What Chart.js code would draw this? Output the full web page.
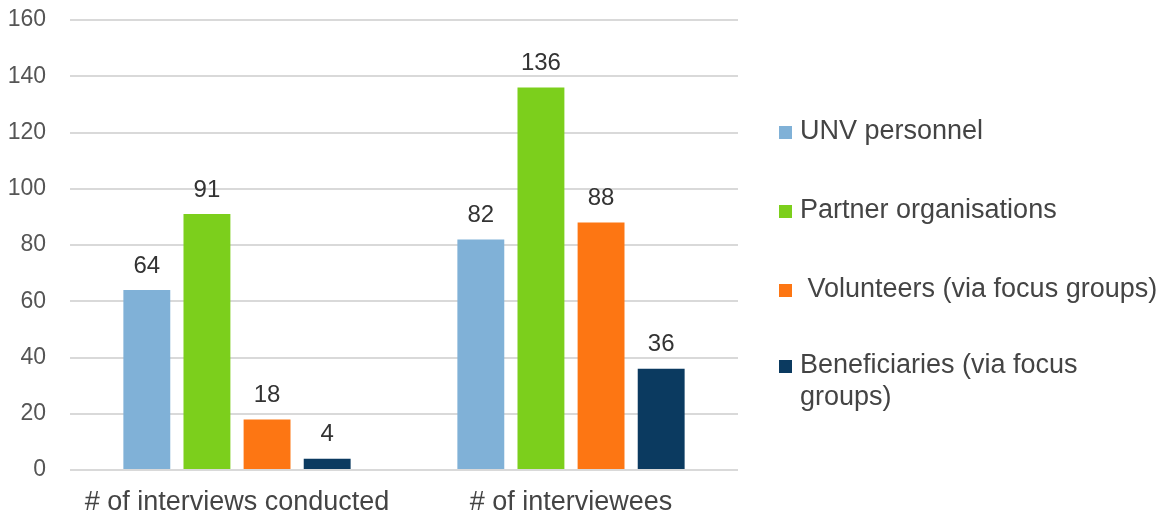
<!DOCTYPE html>
<html>
<head>
<meta charset="utf-8">
<script src="https://cdn.jsdelivr.net/npm/chart.js@4"></script>
<style>
  html, body { margin: 0; padding: 0; background: #fff; }
  #wrap { width: 1168px; height: 519px; position: relative; }
</style>
</head>
<body>
<div id="wrap"><canvas id="interviewChart"></canvas></div>
<script>
const categories = ['# of interviews conducted', '# of interviewees'];
const seriesNames = ['UNV personnel', 'Partner organisations', ' Volunteers (via focus groups)', 'Beneficiaries (via focus\ngroups)'];
const unvPersonnel = [64, 82];
const partnerOrgs = [91, 136];
const volunteers = [18, 88];
const beneficiaries = [4, 36];
const yTicks = [0, 20, 40, 60, 80, 100, 120, 140, 160];

const colors = ['#80b1d7', '#7ccf1c', '#fd7613', '#0b3a60'];
const FONT = '"Liberation Sans", Arial, sans-serif';

// value printed above every bar
const valueLabels = {
    id: 'valueLabels',
    afterDatasetsDraw(chart) {
        const ctx = chart.ctx;
        ctx.save();
        ctx.font = '24px ' + FONT;
        ctx.fillStyle = '#333';
        ctx.textAlign = 'center';
        ctx.textBaseline = 'middle';
        chart.data.datasets.forEach((ds, i) => {
            chart.getDatasetMeta(i).data.forEach((bar, j) => {
                ctx.fillText(ds.data[j], bar.x, bar.y - 24);
            });
        });
        ctx.restore();
    }
};

// legend on the right, with wrapped labels
const sideLegend = {
    id: 'sideLegend',
    afterDraw(chart) {
        const ctx = chart.ctx;
        const rows = [132, 211, 290, 366];
        ctx.save();
        ctx.font = '27px ' + FONT;
        ctx.textBaseline = 'middle';
        chart.data.datasets.forEach((ds, i) => {
            ctx.fillStyle = ds.backgroundColor;
            ctx.fillRect(779, rows[i] - 6, 13, 13);
            ctx.fillStyle = '#444';
            ds.label.split('\n').forEach((line, k) => {
                ctx.fillText(line, 800, rows[i] + k * 32);
            });
        });
        ctx.restore();
    }
};

new Chart(document.getElementById('interviewChart'), {
    type: 'bar',
    data: {
        labels: categories,
        datasets: [
            { label: seriesNames[0], data: unvPersonnel, backgroundColor: colors[0] },
            { label: seriesNames[1], data: partnerOrgs, backgroundColor: colors[1] },
            { label: seriesNames[2], data: volunteers, backgroundColor: colors[2] },
            { label: seriesNames[3], data: beneficiaries, backgroundColor: colors[3] }
        ]
    },
    options: {
        responsive: true,
        maintainAspectRatio: false,
        animation: false,
        layout: { padding: { top: 20, right: 430, left: 0, bottom: 0 } },
        datasets: { bar: { barPercentage: 0.78, categoryPercentage: 0.72 } },
        plugins: {
            legend: { display: false },
            tooltip: { enabled: false }
        },
        scales: {
            x: {
                grid: { display: false, drawTicks: false },
                border: { display: false },
                ticks: { color: '#444', font: { family: FONT, size: 27 }, padding: 16 },
                afterFit(scale) { scale.height = 49; scale.paddingLeft = 0; scale.paddingRight = 0; }
            },
            y: {
                min: 0,
                max: 160,
                afterBuildTicks(scale) { scale.ticks = yTicks.map(v => ({ value: v })); },
                grid: { color: '#d9d9d9', lineWidth: 2, drawTicks: false },
                border: { display: false },
                ticks: { color: '#555', font: { family: FONT, size: 23 }, padding: 24 },
                afterFit(scale) { scale.width = 70; scale.paddingTop = 0; scale.paddingBottom = 0; }
            }
        }
    },
    plugins: [valueLabels, sideLegend]
});
</script>
</body>
</html>
